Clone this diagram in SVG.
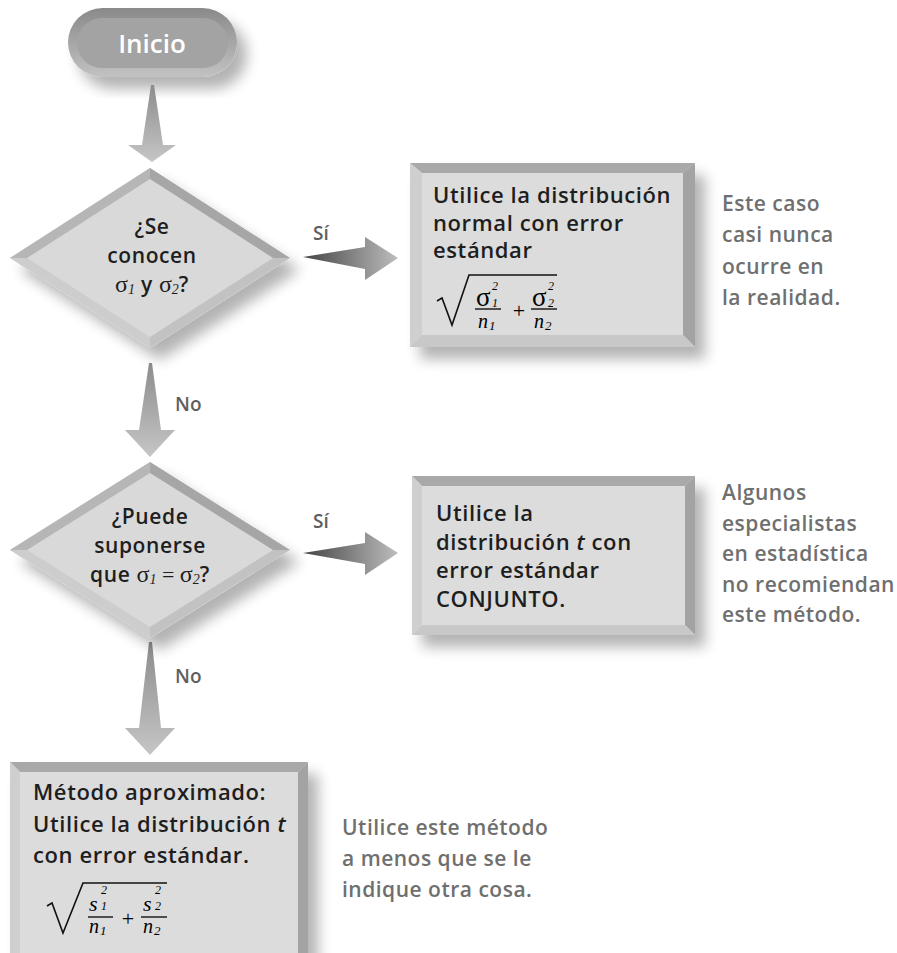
<svg xmlns="http://www.w3.org/2000/svg" width="897" height="953" viewBox="0 0 897 953">
<defs>
<filter id="sh" x="-20%" y="-20%" width="150%" height="150%">
<feGaussianBlur in="SourceAlpha" stdDeviation="7"/>
<feOffset dx="10" dy="12" result="b"/>
<feComponentTransfer><feFuncA type="linear" slope="0.3"/></feComponentTransfer>
<feMerge><feMergeNode/><feMergeNode in="SourceGraphic"/></feMerge>
</filter>
<linearGradient id="gd" x1="0" y1="0" x2="0" y2="1"><stop offset="0" stop-color="#8c8c8c"/><stop offset="1" stop-color="#c6c6c6"/></linearGradient>
<linearGradient id="gr" x1="0" y1="0" x2="1" y2="0"><stop offset="0" stop-color="#444"/><stop offset="1" stop-color="#bdbdbd"/></linearGradient>
<linearGradient id="gp" x1="0" y1="0" x2="0" y2="1"><stop offset="0" stop-color="#8a8a8a"/><stop offset="1" stop-color="#c2c2c2"/></linearGradient>
</defs>
<style>
.t{font-family:"Open Sans","DejaVu Sans",sans-serif;font-weight:600;font-size:22px;letter-spacing:0.6px;fill:#1e1e1e}
.c{text-anchor:middle}
.dm{font-size:21px}
.side{fill:#6f6f6f;font-size:21px;letter-spacing:0.5px}
.lbl{fill:#5e5e5e;font-size:19px;letter-spacing:0}
.m{font-family:"Liberation Serif",serif;font-weight:normal;letter-spacing:0}
.mi{font-family:"Liberation Serif",serif;font-style:italic;font-weight:normal;letter-spacing:0}
.sm{font-size:14px}
.face{fill:#dcdcdc}
.rad{fill:none;stroke:#111;stroke-width:1.6}
.bar{stroke:#111;stroke-width:1.4}
</style>

<g id="inicio">
<rect x="68" y="8" width="169" height="69" rx="34.5" fill="url(#gp)" filter="url(#sh)"/>
<rect x="77" y="18" width="151" height="50" rx="25" fill="#a3a3a3"/>
<text class="t c" x="152" y="53" style="font-size:26px;fill:#fff;letter-spacing:0">Inicio</text>
</g>

<g id="connectors">
<polygon points="151,85 154,85 163,145 176,145 152,162 128,145 142,145" fill="url(#gd)"/>
<polygon points="149,363 152,363 161,430 175,430 150,457 125,430 139,430" fill="url(#gd)"/>
<polygon points="149,642 152,642 161,728 175,728 150,755 125,728 139,728" fill="url(#gd)"/>
<polygon points="303,257 365,247 365,237 398,258 365,280 365,269" fill="url(#gr)"/>
<polygon points="303,553 365,543 365,532 398,553 365,575 365,564" fill="url(#gr)"/>
<text class="t lbl" x="313" y="240">Sí</text>
<text class="t lbl" x="313" y="528">Sí</text>
<text class="t lbl" x="175" y="411">No</text>
<text class="t lbl" x="175" y="683">No</text>
</g>

<g id="decision1">
<g filter="url(#sh)">
<polygon points="150,168 290,258 150,348 10,258" fill="#d9d9d9"/>
</g>
<polygon points="10,258 150,168 150,179 27,258" fill="#b6b6b6"/>
<polygon points="150,168 290,258 273,258 150,179" fill="#a6a6a6"/>
<polygon points="290,258 150,348 150,337 273,258" fill="#c2c2c2"/>
<polygon points="10,258 150,348 150,337 27,258" fill="#cdcdcd"/>
<text class="t c dm" x="152" y="234">¿Se</text>
<text class="t c dm" x="152" y="263">conocen</text>
<text class="t c dm" x="152" y="292"><tspan class="m" style="font-size:24px">σ</tspan><tspan class="mi sm" dy="2">1</tspan><tspan dy="-2"> y </tspan><tspan class="m" style="font-size:24px">σ</tspan><tspan class="mi sm" dy="2">2</tspan><tspan dy="-2">?</tspan></text>
</g>

<g id="box1">
<g filter="url(#sh)">
<rect x="410" y="163" width="285" height="184" class="face"/>
</g>
<polygon points="410,163 695,163 683,173 422,173" fill="#a9a9a9"/>
<polygon points="695,163 695,347 683,335 683,173" fill="#a3a3a3"/>
<polygon points="410,163 422,173 422,335 410,347" fill="#cfcfcf"/>
<polygon points="410,347 422,335 683,335 695,347" fill="#c8c8c8"/>
<text class="t" x="433" y="203">Utilice la distribución</text>
<text class="t" x="433" y="231">normal con error</text>
<text class="t" x="433" y="258">estándar</text>
<path class="rad" d="M437,301 L442,298 L452,325 L469,275 L557,275"/>
<text class="m" x="476" y="306" style="font-size:27px">σ</text>
<text class="mi" x="492" y="290" style="font-size:12px">2</text>
<text class="mi" x="492" y="307" style="font-size:12px">1</text>
<line class="bar" x1="475" y1="309" x2="501" y2="309"/>
<text class="mi" x="478" y="328" style="font-size:20px">n</text>
<text class="mi" x="489" y="330" style="font-size:13px">1</text>
<text class="m" x="519" y="318" style="font-size:22px;text-anchor:middle">+</text>
<text class="m" x="532" y="306" style="font-size:27px">σ</text>
<text class="mi" x="548" y="290" style="font-size:12px">2</text>
<text class="mi" x="548" y="307" style="font-size:12px">2</text>
<line class="bar" x1="531" y1="309" x2="557" y2="309"/>
<text class="mi" x="534" y="328" style="font-size:20px">n</text>
<text class="mi" x="545" y="330" style="font-size:13px">2</text>
</g>

<g id="note1">
<text class="t side" x="722" y="211">Este caso</text>
<text class="t side" x="722" y="242">casi nunca</text>
<text class="t side" x="722" y="274">ocurre en</text>
<text class="t side" x="722" y="305">la realidad.</text>
</g>

<g id="decision2">
<g filter="url(#sh)">
<polygon points="150,462 290,550 150,638 10,550" fill="#d9d9d9"/>
</g>
<polygon points="10,550 150,462 150,473 27,550" fill="#b6b6b6"/>
<polygon points="150,462 290,550 273,550 150,473" fill="#a6a6a6"/>
<polygon points="290,550 150,638 150,627 273,550" fill="#c2c2c2"/>
<polygon points="10,550 150,638 150,627 27,550" fill="#cdcdcd"/>
<text class="t c dm" x="150" y="524">¿Puede</text>
<text class="t c dm" x="150" y="553">suponerse</text>
<text class="t c dm" x="150" y="582">que <tspan class="m" style="font-size:24px">σ</tspan><tspan class="mi sm" dy="2">1</tspan><tspan class="m" dy="-2" style="font-size:22px"> = </tspan><tspan class="m" style="font-size:24px">σ</tspan><tspan class="mi sm" dy="2">2</tspan><tspan dy="-2">?</tspan></text>
</g>

<g id="box2">
<g filter="url(#sh)">
<rect x="412" y="476" width="283" height="159" class="face"/>
</g>
<polygon points="412,476 695,476 685,486 422,486" fill="#a9a9a9"/>
<polygon points="695,476 695,635 685,625 685,486" fill="#a3a3a3"/>
<polygon points="412,476 422,486 422,625 412,635" fill="#cfcfcf"/>
<polygon points="412,635 422,625 685,625 695,635" fill="#c8c8c8"/>
<text class="t" x="436" y="521">Utilice la</text>
<text class="t" x="436" y="550">distribución <tspan font-style="italic">t</tspan> con</text>
<text class="t" x="436" y="578">error estándar</text>
<text class="t" x="436" y="607">CONJUNTO.</text>
</g>

<g id="note2">
<text class="t side" x="722" y="500">Algunos</text>
<text class="t side" x="722" y="531">especialistas</text>
<text class="t side" x="722" y="561">en estadística</text>
<text class="t side" x="722" y="592">no recomiendan</text>
<text class="t side" x="722" y="622">este método.</text>
</g>

<g id="box3">
<g filter="url(#sh)">
<rect x="10" y="762" width="298" height="200" class="face"/>
</g>
<polygon points="10,762 308,762 298,772 20,772" fill="#a9a9a9"/>
<polygon points="308,762 308,960 298,960 298,772" fill="#a3a3a3"/>
<polygon points="10,762 20,772 20,960 10,960" fill="#cfcfcf"/>
<text class="t" x="33" y="800">Método aproximado:</text>
<text class="t" x="33" y="832">Utilice la distribución <tspan font-style="italic">t</tspan></text>
<text class="t" x="33" y="863">con error estándar.</text>
<path class="rad" d="M47,906 L52,903 L63,933 L83,883 L167,883"/>
<text class="mi" x="89" y="911" style="font-size:22px">s</text>
<text class="mi" x="101" y="894" style="font-size:12px">2</text>
<text class="mi" x="101" y="910" style="font-size:12px">1</text>
<line class="bar" x1="88" y1="917" x2="113" y2="917"/>
<text class="mi" x="89" y="933" style="font-size:20px">n</text>
<text class="mi" x="100" y="935" style="font-size:13px">1</text>
<text class="m" x="128" y="926" style="font-size:22px;text-anchor:middle">+</text>
<text class="mi" x="143" y="911" style="font-size:22px">s</text>
<text class="mi" x="155" y="894" style="font-size:12px">2</text>
<text class="mi" x="155" y="910" style="font-size:12px">2</text>
<line class="bar" x1="141" y1="917" x2="167" y2="917"/>
<text class="mi" x="143" y="933" style="font-size:20px">n</text>
<text class="mi" x="154" y="935" style="font-size:13px">2</text>
</g>

<g id="note3">
<text class="t side" x="342" y="835">Utilice este método</text>
<text class="t side" x="342" y="866">a menos que se le</text>
<text class="t side" x="342" y="897">indique otra cosa.</text>
</g>
</svg>
